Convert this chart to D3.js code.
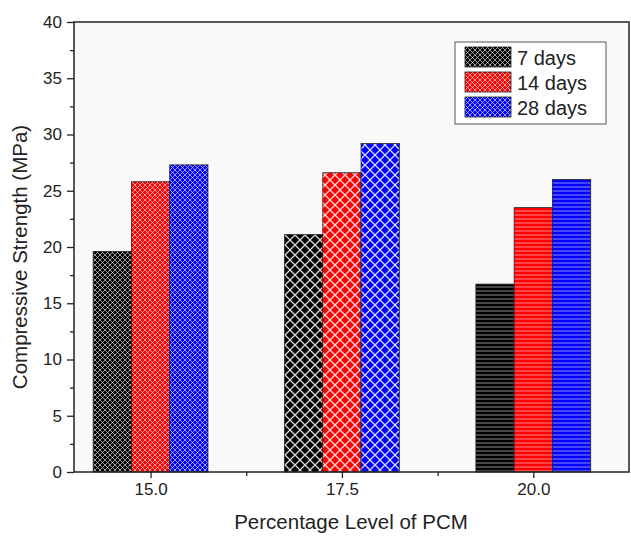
<!DOCTYPE html>
<html>
<head>
<meta charset="utf-8">
<script src="https://cdn.jsdelivr.net/npm/d3@7"></script>
<style>
  body { margin: 0; background: #fff; }
  text { font-family: "Liberation Sans", Arial, sans-serif; fill: #222; }
</style>
</head>
<body>
<svg id="chart" width="631" height="538"></svg>
<script>
// PCM levels on the x axis
const pcmLevels = [15.0, 17.5, 20.0];
const tickLabels = ["15.0", "17.5", "20.0"];

// compressive strength (MPa) for each curing age
const days7 = [19.6, 21.1, 16.7];
const days14 = [25.8, 26.6, 23.5];
const days28 = [27.3, 29.2, 26.0];

const seriesNames = ["7 days", "14 days", "28 days"];
const seriesColors = ["#000000", "#ff0000", "#0000ff"];
const seriesValues = [days7, days14, days28];

// plot box
const plotLeft = 74, plotRight = 629, plotTop = 22, plotBottom = 472;

const svg = d3.select('#chart');

let x = d3.scaleLinear().domain([14, 21.25]).range([plotLeft, plotRight]);
let y = d3.scaleLinear().domain([0, 40]).range([plotBottom, plotTop]);

// bar width is half a unit, three bars side by side
const barW = 0.5;

// Each group has its own hatch style: fine dots, big crosshatch, stripes
let defs = svg.append("defs");
function makePattern(id, color, kind) {
    let size = kind === "fine" ? 5 : (kind === "cross" ? 10 : 4);
    let p = defs.append("pattern")
        .attr("id", id)
        .attr("patternUnits", "userSpaceOnUse")
        .attr("width", size)
        .attr("height", size);
    p.append("rect").attr("width", size).attr("height", size).attr("fill", color);
    if (kind === "lines") {
        p.append("rect").attr("x", 0).attr("y", 2.5).attr("width", size).attr("height", 1)
            .attr("fill", "#fff").attr("opacity", 0.55);
    } else {
        let s = size;
        p.append("path")
            .attr("d", `M0,0L${s},${s}M${s},0L0,${s}`)
            .attr("stroke", "#fff")
            .attr("stroke-width", kind === "fine" ? 1 : 1.3)
            .attr("opacity", kind === "fine" ? 0.6 : 0.85)
            .attr("fill", "none");
    }
}
const groupKinds = ["fine", "cross", "lines"];
groupKinds.forEach((k, g) => {
    seriesColors.forEach((c, s) => makePattern(`pat-${g}-${s}`, c, k));
});

// plot background
svg.append("rect")
    .attr("x", plotLeft).attr("y", plotTop)
    .attr("width", plotRight - plotLeft).attr("height", plotBottom - plotTop)
    .attr("fill", "#f9f9f9");

// Bars
seriesValues.forEach((vals, s) => {
    svg.append("g").selectAll("rect")
        .data(vals)
        .enter()
        .append("rect")
        .attr("x", (d, i) => x(pcmLevels[i] + (s - 1.5) * barW))
        .attr("y", d => y(d))
        .attr("width", x(barW) - x(0))
        .attr("height", d => y(0) - y(d))
        .attr("fill", (d, i) => `url(#pat-${i}-${s})`)
        .attr("stroke", "#222")
        .attr("stroke-width", 0.8);
});

// X axis with minor ticks
let xAxis = d3.axisBottom(x).tickValues(pcmLevels).tickFormat((d, i) => tickLabels[i])
    .tickSizeInner(6).tickSizeOuter(0).tickPadding(5);
svg.append("g").attr("transform", `translate(0,${plotBottom})`).call(xAxis);
svg.append("g").attr("transform", `translate(0,${plotBottom})`)
    .call(d3.axisBottom(x).tickValues([16.25, 18.75]).tickFormat("").tickSizeInner(4).tickSizeOuter(0));

// Y axis with minor ticks
svg.append("g").attr("transform", `translate(${plotLeft},0)`)
    .call(d3.axisLeft(y).tickValues(d3.range(0, 41, 5)).tickSizeInner(7).tickSizeOuter(0).tickPadding(5));
svg.append("g").attr("transform", `translate(${plotLeft},0)`)
    .call(d3.axisLeft(y).tickValues(d3.range(2.5, 40, 5)).tickFormat("").tickSizeInner(4).tickSizeOuter(0));

svg.selectAll(".tick text").style("font-size", "17px").attr("fill", "#222");
svg.selectAll(".tick line").attr("stroke", "#222").attr("stroke-width", 1.3);
svg.selectAll(".domain").remove();

// Frame around the plot
svg.append("rect")
    .attr("x", plotLeft).attr("y", plotTop)
    .attr("width", plotRight - plotLeft).attr("height", plotBottom - plotTop)
    .attr("fill", "none")
    .attr("stroke", "#222")
    .attr("stroke-width", 1.5);

// Axis titles
svg.append("text")
    .attr("x", 351)
    .attr("y", 529)
    .attr("text-anchor", "middle")
    .style("font-size", "20.5px")
    .text("Percentage Level of PCM");

svg.append("text")
    .attr("transform", "translate(27,257) rotate(-90)")
    .attr("text-anchor", "middle")
    .style("font-size", "20.5px")
    .text("Compressive Strength (MPa)");

// Legend
let legend = svg.append("g");
legend.append("rect")
    .attr("x", 455).attr("y", 42).attr("width", 151).attr("height", 82)
    .attr("fill", "#fff").attr("stroke", "#555").attr("stroke-width", 1);
seriesNames.forEach((name, s) => {
    legend.append("rect")
        .attr("x", 465).attr("y", 47 + s * 25)
        .attr("width", 46).attr("height", 20)
        .attr("fill", `url(#pat-0-${s})`)
        .attr("stroke", "#222").attr("stroke-width", 0.8);
    legend.append("text")
        .attr("x", 517).attr("y", 65 + s * 25)
        .style("font-size", "20px")
        .text(name);
});
</script>
</body>
</html>
